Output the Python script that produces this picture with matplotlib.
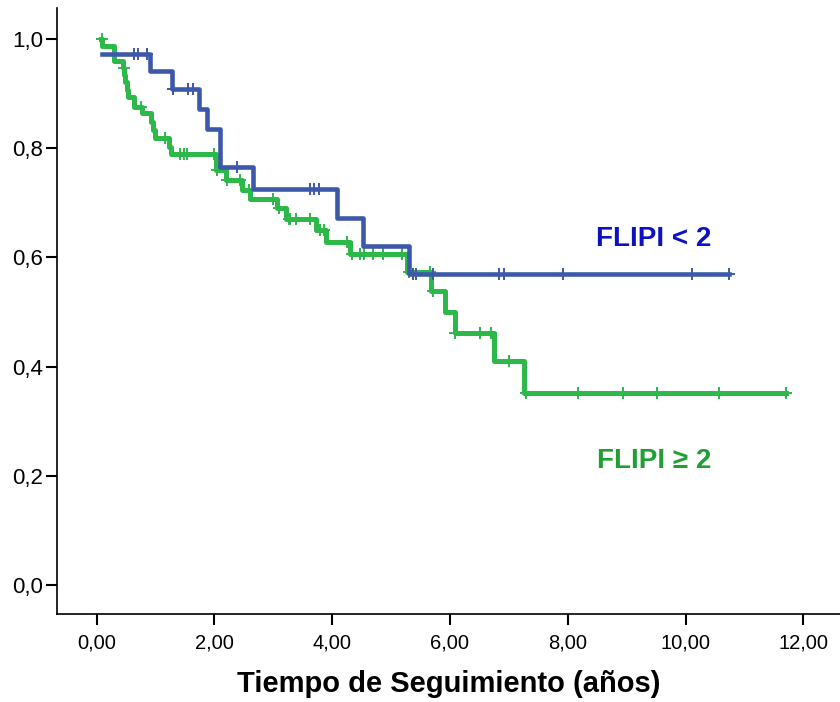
import numpy as np
import matplotlib
matplotlib.use('Agg')
import matplotlib.pyplot as plt

# Kaplan-Meier steps (years, survival after the step)
blue_times = [0.10, 0.90, 1.28, 1.74, 1.87, 2.10, 2.65, 4.08, 4.52, 5.30, 10.74]
blue_surv = [0.972, 0.942, 0.908, 0.872, 0.836, 0.765, 0.725, 0.673, 0.621, 0.570, 0.570]
blue_cens = [0.63, 0.71, 0.86, 1.30, 1.56, 1.63, 2.39, 3.63, 3.70, 3.78,
             5.38, 5.42, 5.72, 6.84, 6.91, 7.91, 10.11, 10.74]

green_times = [0.07, 0.10, 0.29, 0.45, 0.47, 0.49, 0.51, 0.53, 0.63, 0.78, 0.93,
               0.96, 1.00, 1.23, 1.27, 2.02, 2.19, 2.47, 2.61, 3.07, 3.21, 3.72,
               3.90, 4.31, 5.27, 5.68, 5.92, 6.09, 6.75, 7.25, 11.71]
green_surv = [1.000, 0.988, 0.960, 0.947, 0.934, 0.921, 0.907, 0.894, 0.876, 0.864, 0.849,
              0.834, 0.818, 0.803, 0.790, 0.760, 0.742, 0.723, 0.707, 0.690, 0.670, 0.651,
              0.629, 0.606, 0.574, 0.538, 0.501, 0.461, 0.410, 0.351, 0.351]
green_cens = [0.09, 0.46, 0.76, 1.17, 1.41, 1.48, 1.54, 1.99, 2.05, 2.22, 2.43, 2.58,
              3.00, 3.09, 3.26, 3.29, 3.38, 3.63, 3.80, 3.86, 4.25, 4.34, 4.48, 4.54,
              4.69, 4.87, 5.19, 5.30, 5.66, 5.71, 6.09, 6.51, 6.70, 7.00, 7.29, 8.18,
              8.93, 9.51, 10.56, 11.71]

x_ticks = [0, 2, 4, 6, 8, 10, 12]
x_labels = ['0,00', '2,00', '4,00', '6,00', '8,00', '10,00', '12,00']
y_ticks = [0.0, 0.2, 0.4, 0.6, 0.8, 1.0]
y_labels = ['0,0', '0,2', '0,4', '0,6', '0,8', '1,0']

blue = '#3e58a9'
green = '#2db84a'


def censor_levels(times, surv, cens):
    idx = np.searchsorted(times, cens, side='right') - 1
    return np.array(surv)[idx]


fig = plt.figure(figsize=(8.4, 7.02), dpi=100)
ax = fig.add_axes([0.0679, 0.1254, 0.9321, 0.8632])

ax.step(green_times, green_surv, where='post', color=green, lw=3.6, zorder=2)
ax.plot(green_cens, censor_levels(green_times, green_surv, green_cens), '+',
        color=green, ms=8, mew=1.4, zorder=3)
ax.step(blue_times, blue_surv, where='post', color=blue, lw=3.3, zorder=4)
ax.plot(blue_cens, censor_levels(blue_times, blue_surv, blue_cens), '+',
        color=blue, ms=8, mew=1.4, zorder=5)

ax.text(9.46, 0.634, 'FLIPI < 2', color='#0c12c2', fontsize=20, fontweight='bold',
        family='Liberation Sans', ha='center', va='center')
ax.text(9.46, 0.227, 'FLIPI \u2265 2', color='#1f9f34', fontsize=20, fontweight='bold',
        family=['Liberation Sans', 'DejaVu Sans'], ha='center', va='center')

ax.set_xlim(-0.67, 12.62)
ax.set_ylim(-0.053, 1.057)
ax.set_xticks(x_ticks)
ax.set_xticklabels(x_labels, family='Liberation Sans', fontsize=14.5)
ax.set_yticks(y_ticks)
ax.set_yticklabels(y_labels, family='Liberation Sans', fontsize=16)
ax.tick_params(axis='x', length=8, width=1.5, pad=6)
ax.tick_params(axis='y', length=8, width=1.5, pad=2)

for side in ['top', 'right']:
    ax.spines[side].set_visible(False)
for side in ['left', 'bottom']:
    ax.spines[side].set_linewidth(1.2)

ax.set_xlabel('Tiempo de Seguimiento (años)', family='Liberation Sans', fontsize=21,
              fontweight='bold', labelpad=13)

fig.savefig('out.png', dpi=100)
